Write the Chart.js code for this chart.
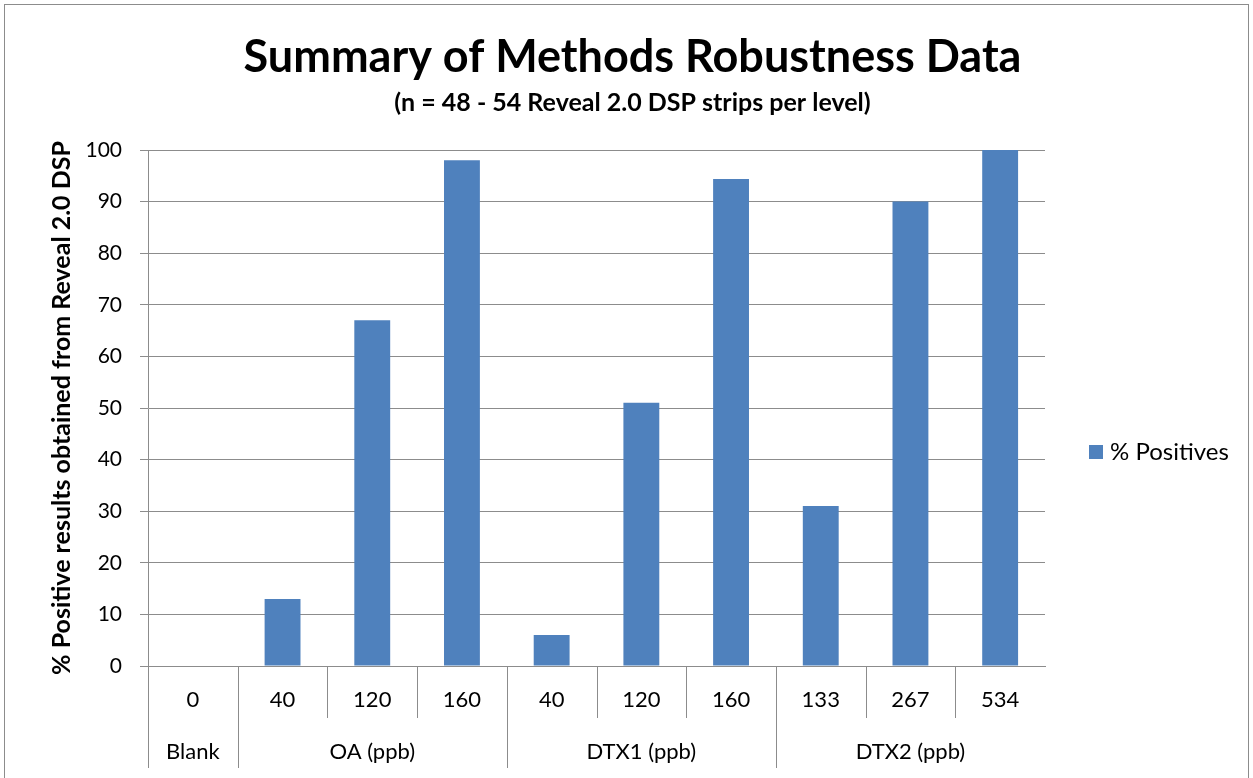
<!DOCTYPE html>
<html>
<head>
<meta charset="utf-8">
<script src="https://cdn.jsdelivr.net/npm/chart.js@4.4.1/dist/chart.umd.min.js"></script>
<style>
  html, body { margin:0; padding:0; background:#fff; }
  #wrap { width:1253px; height:778px; position:relative; }
</style>
</head>
<body>
<div id="wrap"><canvas id="c"></canvas></div>
<script>
const levels = ['0', '40', '120', '160', '40', '120', '160', '133', '267', '534'];
const groups = ['Blank', 'OA (ppb)', 'DTX1 (ppb)', 'DTX2 (ppb)'];
const groupSpans = [1, 3, 3, 3];
const positives = [0, 13, 67, 98, 6, 51, 94.4, 31, 90, 100];

const FONT = 'Lato';
const GRID = '#8c8c8c';

// frame round the whole chart, like the Excel chart area border
const framePlugin = {
  id: 'frame',
  beforeDraw(chart) {
    const ctx = chart.ctx;
    ctx.save();
    ctx.strokeStyle = '#8c8c8c'; ctx.lineWidth = 1;
    ctx.strokeRect(4.5, 4.5, 1244, 800);
    ctx.restore();
  }
};

// two row category axis: levels on top, groups below
const catAxisPlugin = {
  id: 'catAxis',
  afterDraw(chart) {
    const x = chart.scales.x, area = chart.chartArea, ctx = chart.ctx;
    const top = area.bottom;
    const edge = i => i === 0 ? area.left : (x.getPixelForValue(i - 1) + x.getPixelForValue(i)) / 2;
    const groupEdges = [0];
    groupSpans.forEach(s => groupEdges.push(groupEdges[groupEdges.length - 1] + s));
    ctx.save();
    ctx.strokeStyle = GRID; ctx.lineWidth = 1;
    for (let i = 0; i < levels.length; i++) {
      const px = Math.round(edge(i)) + 0.5;
      const long = groupEdges.includes(i);
      ctx.beginPath(); ctx.moveTo(px, top); ctx.lineTo(px, top + (long ? 102 : 52)); ctx.stroke();
    }
    ctx.fillStyle = '#000'; ctx.textAlign = 'center'; ctx.textBaseline = 'middle';
    ctx.font = `22px ${FONT}`;
    levels.forEach((l, i) => ctx.fillText(l, x.getPixelForValue(i), top + 34));
    groups.forEach((g, k) => {
      const a = edge(groupEdges[k]);
      const b = groupEdges[k + 1] < levels.length ? edge(groupEdges[k + 1]) : area.right;
      ctx.fillText(g, (a + b) / 2, top + 86);
    });

    // legend, to the right of the plot, as Excel places it
    const ds = chart.data.datasets[0];
    const ly = (area.top + chart.height) / 2 - 12;
    const lx = area.right + 44;
    ctx.fillStyle = ds.backgroundColor;
    ctx.fillRect(lx, ly - 7, 14, 14);
    ctx.fillStyle = '#000'; ctx.textAlign = 'left';
    ctx.font = `24px ${FONT}`;
    ctx.fillText(ds.label, lx + 21, ly);
    ctx.restore();
  }
};

new Chart(document.getElementById('c'), {
  type: 'bar',
  data: {
    labels: levels,
    datasets: [{ label: '% Positives', data: positives, backgroundColor: '#4f81bd', borderWidth: 0,
      barPercentage: 0.4, categoryPercentage: 1 }]
  },
  options: {
    responsive: true, maintainAspectRatio: false, animation: false,
    layout: { padding: { left: 12, right: 0, top: 0, bottom: 0 } },
    plugins: {
      title: { display: true, text: 'Summary of Methods Robustness Data', color: '#000',
        font: { size: 45, weight: 'bold', family: FONT }, padding: { top: 30, bottom: 4 } },
      subtitle: { display: true, text: '(n = 48 - 54 Reveal 2.0 DSP strips per level)', color: '#000',
        font: { size: 25, weight: 'bold', family: FONT }, padding: { top: 0, bottom: 32 } },
      legend: { display: false },
      tooltip: { enabled: false }
    },
    scales: {
      x: {
        ticks: { display: false },
        grid: { display: false },
        border: { color: GRID },
        afterFit: s => { s.height = 112; }
      },
      y: {
        min: 0, max: 100,
        ticks: { stepSize: 10, color: '#000', padding: 18, font: { size: 21, family: FONT } },
        grid: { color: GRID, tickLength: 8 },
        border: { color: GRID },
        title: { display: true, text: '% Positive results obtained from Reveal 2.0 DSP', color: '#000',
          font: { size: 25, weight: 'bold', family: FONT }, padding: { top: 35, bottom: 4 } },
        afterFit: s => { s.width = 136; }
      },
      // empty axis on the right keeps room for the legend
      side: {
        position: 'right', display: true,
        ticks: { display: false }, grid: { display: false }, border: { display: false },
        afterFit: s => { s.width = 208; }
      }
    }
  },
  plugins: [framePlugin, catAxisPlugin]
});
</script>
</body>
</html>
